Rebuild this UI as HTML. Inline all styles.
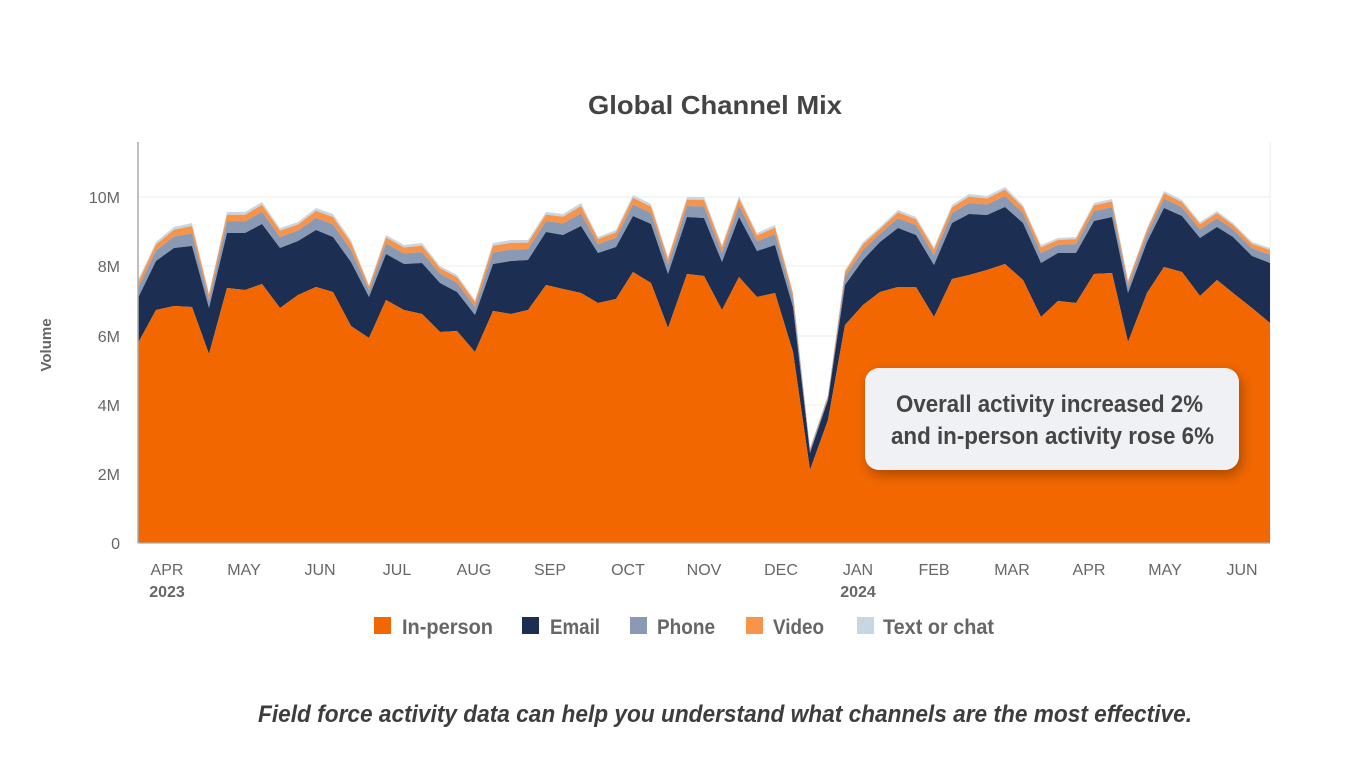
<!DOCTYPE html>
<html><head><meta charset="utf-8"><style>
html,body{margin:0;padding:0;background:#fff;width:1356px;height:776px;overflow:hidden}
svg{display:block}
text{font-family:"Liberation Sans",sans-serif}
</style></head><body>
<svg id="s" width="1356" height="776" viewBox="0 0 1356 776" xmlns="http://www.w3.org/2000/svg">
<defs><filter id="sh" x="-20%" y="-30%" width="140%" height="170%"><feDropShadow dx="3" dy="5" stdDeviation="6" flood-color="#000" flood-opacity="0.3"/></filter></defs>
<text x="715" y="114" text-anchor="middle" font-size="26" font-weight="bold" fill="#444" textLength="254" lengthAdjust="spacingAndGlyphs">Global Channel Mix</text>
<g stroke="#eeeeee" stroke-width="1">
<line x1="138" x2="1270" y1="197" y2="197"/><line x1="138" x2="1270" y1="266" y2="266"/><line x1="138" x2="1270" y1="336" y2="336"/><line x1="138" x2="1270" y1="405" y2="405"/><line x1="138" x2="1270" y1="474" y2="474"/>
<line x1="1270" x2="1270" y1="142" y2="543"/>
</g>
<g id="areas"></g>
<line x1="138" x2="138" y1="142" y2="543" stroke="#aaa" stroke-width="1.5"/>
<line x1="138" x2="1270" y1="543" y2="543" stroke="#aaa" stroke-width="1.2"/>
<g font-size="16" fill="#666" text-anchor="end">
<text x="120" y="203">10M</text><text x="120" y="272">8M</text><text x="120" y="342">6M</text><text x="120" y="411">4M</text><text x="120" y="480">2M</text><text x="120" y="549">0</text>
</g>
<text transform="translate(51,345) rotate(-90)" text-anchor="middle" font-size="15" font-weight="bold" fill="#666">Volume</text>
<g font-size="16" fill="#666" text-anchor="middle">
<text x="167" y="575">APR</text><text x="244" y="575">MAY</text><text x="320" y="575">JUN</text><text x="397" y="575">JUL</text><text x="474" y="575">AUG</text><text x="550" y="575">SEP</text><text x="628" y="575">OCT</text><text x="704" y="575">NOV</text><text x="781" y="575">DEC</text><text x="858" y="575">JAN</text><text x="934" y="575">FEB</text><text x="1012" y="575">MAR</text><text x="1089" y="575">APR</text><text x="1165" y="575">MAY</text><text x="1242" y="575">JUN</text>
<text x="167" y="597" font-weight="bold">2023</text><text x="858" y="597" font-weight="bold">2024</text>
</g>
<g font-size="21" font-weight="bold" fill="#666">
<rect x="374" y="617" width="17" height="17" fill="#f26700"/><text x="402" y="634" textLength="91" lengthAdjust="spacingAndGlyphs">In-person</text>
<rect x="522" y="617" width="17" height="17" fill="#1c2e52"/><text x="550" y="634" textLength="50" lengthAdjust="spacingAndGlyphs">Email</text>
<rect x="630" y="617" width="17" height="17" fill="#8a99b4"/><text x="657" y="634" textLength="58" lengthAdjust="spacingAndGlyphs">Phone</text>
<rect x="746" y="617" width="17" height="17" fill="#f7944a"/><text x="773" y="634" textLength="51" lengthAdjust="spacingAndGlyphs">Video</text>
<rect x="857" y="617" width="17" height="17" fill="#c6d6e4"/><text x="883" y="634" textLength="111" lengthAdjust="spacingAndGlyphs">Text or chat</text>
</g>
<rect x="865" y="368" width="374" height="102" rx="14" fill="#f0f1f5" filter="url(#sh)"/>
<g font-size="24" font-weight="bold" fill="#454545">
<text x="896" y="412" textLength="307" lengthAdjust="spacingAndGlyphs">Overall activity increased 2%</text>
<text x="891" y="444" textLength="323" lengthAdjust="spacingAndGlyphs">and in-person activity rose 6%</text>
</g>
<text x="258" y="722" font-size="24" font-weight="bold" font-style="italic" fill="#3d3d3d" textLength="934" lengthAdjust="spacingAndGlyphs">Field force activity data can help you understand what channels are the most effective.</text>
</svg>
<script>
var X=[138,156,174,192,209,227,245,262,280,298,316,333,351,369,386,404,422,440,457,475,493,511,528,546,563,581,598,616,633,651,668,687,704,722,739,757,775,793,810,828,845,863,880,898,916,934,952,969,987,1005,1023,1041,1058,1076,1094,1112,1128,1147,1164,1182,1200,1217,1233,1252,1270];
var O=[343,310,306,307,354,288,290,284,308,295,287,292,326,338,300,310,314,332,331,352,311,314,310,285,289,293,303,299,272,283,328,274,276,310,277,297,293,352,470,420,325,305,292,287,287,317,279,275,270,264,280,317,301,303,274,273,342,293,267,272,296,280,293,308,323];
var N=[298,261,248,246,308,233,233,224,248,241,230,237,262,297,254,264,263,283,292,315,264,261,260,232,235,226,253,247,216,224,274,217,218,262,217,251,245,307,453,400,285,260,242,228,235,265,223,214,215,207,223,263,253,253,221,217,293,242,208,216,238,227,237,256,263];
var T=[280,242,227,223,293,212,212,202,228,222,208,214,240,285,235,245,243,266,275,300,243,240,240,212,214,203,237,230,195,204,257,197,197,245,196,233,225,292,448,395,270,242,227,210,217,247,205,194,196,187,205,245,238,237,203,199,280,228,191,200,222,211,223,242,248];
var P=N.map(function(n,i){return n-(n-T[i])*0.55});
var V=N.map(function(n,i){return n-(n-T[i])*0.87});
function poly(top,bot,c){var p=[];for(var i=0;i<X.length;i++)p.push(X[i]+','+top[i]);for(var i=X.length-1;i>=0;i--)p.push(X[i]+','+(bot?bot[i]:543));return '<polygon points="'+p.join(' ')+'" fill="'+c+'"/>';}
document.getElementById('areas').innerHTML=poly(T,V,'#c6d6e4')+poly(V,P,'#f7944a')+poly(P,N,'#8a99b4')+poly(N,O,'#1c2e52')+poly(O,null,'#f26700');
</script>
</body></html>
